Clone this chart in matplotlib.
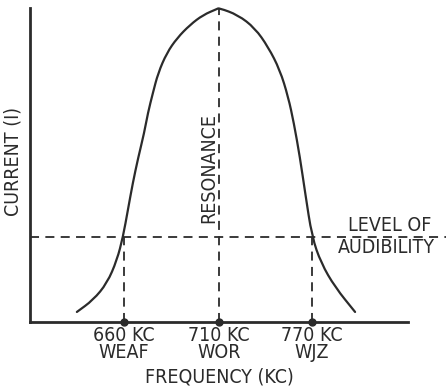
import matplotlib.pyplot as plt
from matplotlib.path import Path
from matplotlib.patches import PathPatch
import numpy as np

plt.rcParams['font.family'] = ['DejaVu Sans']
plt.rcParams['font.stretch'] = 'condensed'

# Curva de resonancia (unidades arbitrarias)
x_curva = [1.24, 1.67, 2.04, 2.30, 2.46, 2.59, 2.72, 2.86, 3.02, 3.12, 3.25,
           3.39, 3.62, 3.89, 4.23, 4.58, 4.95, 5.00,
           5.50, 5.95, 6.30, 6.61, 6.83, 6.98, 7.14, 7.28, 7.46, 7.70, 8.07, 8.60]
y_curva = [0.32, 0.70, 1.24, 1.97, 2.71, 3.57, 4.43, 5.22, 6.02, 6.66, 7.29,
           7.93, 8.57, 9.04, 9.46, 9.78, 9.97, 10.0,
           9.78, 9.36, 8.76, 8.03, 7.17, 6.34, 5.25, 4.11, 2.71, 1.88, 1.11, 0.32]

# Estaciones
x_estaciones = [2.49, 5.0, 7.46]
frecuencias = ['660 KC', '710 KC', '770 KC']
estaciones = ['WEAF', 'WOR', 'WJZ']
nivel_audible = 2.71
pico = 10.0

tinta = '#2b2b2b'
W, H = 446, 391
fig = plt.figure(figsize=(W / 100, H / 100), dpi=100)
ax = fig.add_axes([30 / W, (H - 322) / H, 378 / W, 314 / H])
ax.set_xlim(0, 10)
ax.set_ylim(0, 10)
for s in ['top', 'right']:
    ax.spines[s].set_visible(False)
for s in ['left', 'bottom']:
    ax.spines[s].set_linewidth(2)
    ax.spines[s].set_color(tinta)
ax.set_xticks([])
ax.set_yticks([])

# trazo suave: curvas cuadraticas entre puntos medios
pts = np.column_stack([x_curva, y_curva])
mid = (pts[:-1] + pts[1:]) / 2
verts = [pts[0], mid[0]]
codes = [Path.MOVETO, Path.LINETO]
for k in range(1, len(pts) - 1):
    verts += [pts[k], mid[k]]
    codes += [Path.CURVE3, Path.CURVE3]
verts.append(pts[-1])
codes.append(Path.LINETO)
ax.add_patch(PathPatch(Path(verts, codes), fill=False, edgecolor=tinta, lw=1.6,
                       capstyle='round', joinstyle='round', clip_on=False))

dash = (0, (5, 3.5))
ax.plot([0, 11.0], [nivel_audible, nivel_audible], color=tinta, lw=1.3, ls=dash, clip_on=False)
for i, xe in enumerate(x_estaciones):
    top = pico if i == 1 else nivel_audible
    ax.plot([xe, xe], [0, top], color=tinta, lw=1.3, ls=dash, clip_on=False)
    ax.plot(xe, 0, 'o', color=tinta, ms=5, clip_on=False, zorder=5)
    ax.text(xe, -0.42, frecuencias[i], ha='center', va='center', fontsize=14, color=tinta)
    ax.text(xe, -0.97, estaciones[i], ha='center', va='center', fontsize=14, color=tinta)

ax.text(5.0, -1.75, 'FREQUENCY (KC)', ha='center', va='center', fontsize=14, color=tinta)
ax.text(-0.45, 5.1, 'CURRENT (I)', rotation=90, ha='center', va='center', fontsize=14, color=tinta)
ax.text(4.73, 4.9, 'RESONANCE', rotation=90, ha='center', va='center', fontsize=14, color=tinta)
ax.text(9.52, 3.06, 'LEVEL OF', ha='center', va='center', fontsize=14, color=tinta)
ax.text(9.42, 2.36, 'AUDIBILITY', ha='center', va='center', fontsize=14, color=tinta)

fig.savefig('out.png', dpi=100, facecolor='white')
